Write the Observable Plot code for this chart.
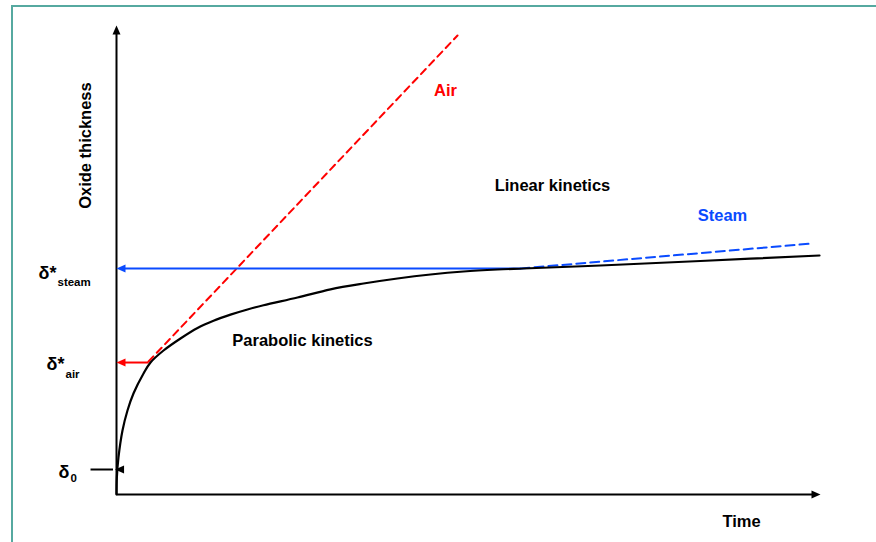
<!DOCTYPE html>
<html><head><meta charset="utf-8">
<script src="https://cdn.jsdelivr.net/npm/d3@7"></script>
<script src="https://cdn.jsdelivr.net/npm/@observablehq/plot@0.6"></script>
<style>
body{margin:0;background:#fff;overflow:hidden}
#frame{position:absolute;left:11px;top:5px;width:900px;height:600px;border-left:2px solid #56a9a0;border-top:2px solid #56a9a0}
#chart{position:absolute;left:0;top:0}
</style></head><body><div id="frame"></div><div id="chart"></div>
<script>
// Oxide growth curve (arbitrary units, time 0–100, thickness 0–100)
const time      = [0, 0.05, 0.28, 0.85, 1.56, 2.41, 3.84, 4.83, 6.68, 9.09, 11.51, 13.78, 16.19, 18.61, 20.88, 25.71, 30.40, 35.09, 39.91, 44.60, 49.29, 54.12, 57.81, 68.75, 82.95, 99.86];
const thickness = [0, 3.62, 7.89, 13.65, 17.91, 21.54, 25.80, 28.14, 30.70, 33.26, 35.50, 37.05, 38.35, 39.45, 40.35, 42.00, 43.75, 44.99, 46.06, 46.91, 47.55, 47.97, 48.19, 48.83, 49.79, 50.96];

// Linear-kinetics extrapolations
const airTime = [4.55, 48.44];
const airThick = [28.36, 97.87];
const steamTime = [57.39, 98.86];
const steamThick = [48.19, 53.52];

// Critical thicknesses
const deltaSteam = 48.19;
const deltaAir = 28.14;
const delta0 = 5.33;

// Axis extents
const xMax = 100, yMax = 100;

const curve = time.map((t, i) => ({t, v: thickness[i]}));
const air = airTime.map((t, i) => ({t, v: airThick[i]}));
const steam = steamTime.map((t, i) => ({t, v: steamThick[i]}));

const font = {fontFamily: "Liberation Sans, Arial, sans-serif", fontWeight: "bold"};
const blue = "#0a4bff", red = "#ff0000";

const spike = {
  draw(ctx, l, r) { ctx.moveTo(-r, 0); ctx.lineTo(0, -l); ctx.lineTo(r, 0); ctx.closePath(); }
};

const heads = [
  {x: 0, y: yMax, rot: 0, c: "black"},
  {x: xMax, y: 0, rot: 90, c: "black"},
  {x: 0, y: deltaSteam, rot: -90, c: blue},
  {x: 0, y: deltaAir, rot: -90, c: red},
  {x: -0.2, y: delta0, rot: -90, c: "black"}
];

const labels = [
  {x: 46.73, y: 86.14, text: "Air", c: red},
  {x: 61.93, y: 65.88, text: "Linear kinetics", c: "black"},
  {x: 86.08, y: 59.49, text: "Steam", c: blue},
  {x: 26.42, y: 32.84, text: "Parabolic kinetics", c: "black"},
  {x: 88.78, y: -5.76, text: "Time", c: "black"}
];

const chart = Plot.plot({
  width: 876, height: 542,
  marginLeft: 116, marginRight: 56, marginTop: 25, marginBottom: 48,
  x: {domain: [0, xMax], axis: null},
  y: {domain: [0, yMax], axis: null},
  style: {background: "transparent", overflow: "visible"},
  marks: [
    // axes
    Plot.link([{x1: 0, y1: 0, x2: 0, y2: yMax - 1}], {x1: "x1", y1: "y1", x2: "x2", y2: "y2", stroke: "black", strokeWidth: 2}),
    Plot.link([{x1: 0, y1: 0, x2: xMax - 0.5, y2: 0}], {x1: "x1", y1: "y1", x2: "x2", y2: "y2", stroke: "black", strokeWidth: 2}),
    // extrapolations
    Plot.line(air, {x: "t", y: "v", stroke: red, strokeWidth: 2, strokeDasharray: "7,5"}),
    Plot.line(steam, {x: "t", y: "v", stroke: blue, strokeWidth: 2, strokeDasharray: "9,5"}),
    // indicator arrows
    Plot.link([{x1: steamTime[0], x2: 0.5, y: deltaSteam}], {x1: "x1", x2: "x2", y1: "y", y2: "y", stroke: blue, strokeWidth: 2}),
    Plot.link([{x1: airTime[0], x2: 0.5, y: deltaAir}], {x1: "x1", x2: "x2", y1: "y", y2: "y", stroke: red, strokeWidth: 2}),
    Plot.link([{x1: -3.69, x2: -0.5, y: delta0}], {x1: "x1", x2: "x2", y1: "y", y2: "y", stroke: "black", strokeWidth: 2}),
    // growth curve
    Plot.line(curve, {x: "t", y: "v", stroke: "black", strokeWidth: 2.2, curve: "catmull-rom"}),
    // arrowheads
    Plot.vector(heads, {x: "x", y: "y", rotate: "rot", length: 9, r: 4, shape: spike, anchor: "end", fill: "c", stroke: "none"}),
    // labels
    Plot.text(labels, {x: "x", y: "y", text: "text", fill: "c", fontSize: 16.5, ...font}),
    Plot.text(["Oxide thickness"], {x: 0, y: 74.4, dx: -31, rotate: -90, fontSize: 16.5, fill: "black", ...font}),
    Plot.text(["δ*"], {x: 0, y: deltaSteam, dx: -60, dy: 5, textAnchor: "end", fontSize: 18, fill: "black", ...font}),
    Plot.text(["steam"], {x: 0, y: deltaSteam, dx: -59, dy: 14, textAnchor: "start", fontSize: 11.5, fill: "black", ...font}),
    Plot.text(["δ*"], {x: 0, y: deltaAir, dx: -52, dy: 2, textAnchor: "end", fontSize: 18, fill: "black", ...font}),
    Plot.text(["air"], {x: 0, y: deltaAir, dx: -51, dy: 12, textAnchor: "start", fontSize: 11.5, fill: "black", ...font}),
    Plot.text(["δ"], {x: 0, y: delta0, dx: -47, dy: 3, textAnchor: "end", fontSize: 18, fill: "black", ...font}),
    Plot.text(["0"], {x: 0, y: delta0, dx: -46, dy: 9, textAnchor: "start", fontSize: 11.5, fill: "black", ...font})
  ]
});
document.getElementById("chart").appendChild(chart);
</script>
</body></html>
